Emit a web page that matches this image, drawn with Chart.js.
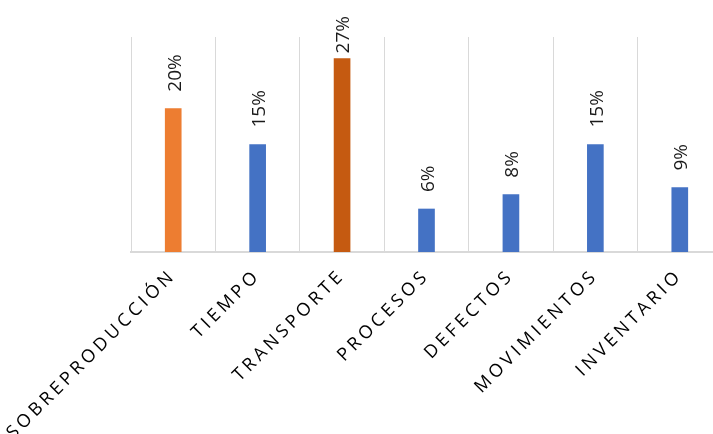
<!DOCTYPE html>
<html>
<head>
<meta charset="utf-8">
<script src="https://cdn.jsdelivr.net/npm/chart.js@4"></script>
<style>
  html, body { margin: 0; padding: 0; background: #fff; overflow: hidden; }
  #wrap { width: 713px; height: 434px; overflow: hidden; position: relative; }
  #chart { position: absolute; left: 0; top: 0; }
</style>
</head>
<body>
<div id="wrap"><canvas id="chart" width="722" height="434"></canvas></div>
<script>
const categories = ['SOBREPRODUCCIÓN', 'TIEMPO', 'TRANSPORTE', 'PROCESOS', 'DEFECTOS', 'MOVIMIENTOS', 'INVENTARIO'];
const values = [20, 15, 27, 6, 8, 15, 9];
const barColors = ['#ED7D31', '#4472C4', '#C55A11', '#4472C4', '#4472C4', '#4472C4', '#4472C4'];
const yMax = 30;

// spaced-out axis labels like the Excel original
const spacing = {
  id: 'spacing',
  beforeDraw(chart) {
    chart.ctx.letterSpacing = '3.8px';
  },
  afterDraw(chart) {
    chart.ctx.letterSpacing = '0px';
  }
};

// vertical percent labels above each bar, pushed down if they'd leave the top
const barLabels = {
  id: 'barLabels',
  afterDatasetsDraw(chart) {
    const ctx = chart.ctx;
    const meta = chart.getDatasetMeta(0);
    ctx.save();
    ctx.letterSpacing = '0px';
    ctx.font = '19px "Open Sans"';
    ctx.fillStyle = '#1a1a1a';
    ctx.textAlign = 'left';
    ctx.textBaseline = 'middle';
    meta.data.forEach((bar, i) => {
      const txt = values[i] + '%';
      const w = ctx.measureText(txt).width;
      const start = Math.max(bar.y - 17, 16 + w);
      ctx.save();
      ctx.translate(bar.x + 2, start);
      ctx.rotate(-Math.PI / 2);
      ctx.fillText(txt, 0, 0);
      ctx.restore();
    });
    ctx.restore();
  }
};

new Chart(document.getElementById('chart'), {
  type: 'bar',
  data: {
    labels: categories,
    datasets: [{
      data: values,
      backgroundColor: barColors,
      barThickness: 16
    }]
  },
  options: {
    responsive: false,
    animation: false,
    layout: { padding: { left: 131, top: 37, right: 0, bottom: 0 } },
    plugins: {
      legend: { display: false },
      tooltip: { enabled: false }
    },
    scales: {
      x: {
        grid: {
          // the closing right-hand line is cropped off in the original
          color: c => c.type === 'tick' ? '#d9d9d9' : 'rgba(0,0,0,0)',
          offset: true,
          drawTicks: false
        },
        border: { color: '#d9d9d9', width: 2 },
        ticks: {
          color: '#000',
          font: { family: '"Open Sans"', size: 18 },
          minRotation: 45,
          maxRotation: 45,
          autoSkip: false,
          padding: 13
        },
        afterFit(scale) {
          scale.height = 182;
          scale.paddingLeft = 0;
          scale.paddingRight = 0;
        }
      },
      y: {
        display: false,
        min: 0,
        max: yMax
      }
    }
  },
  plugins: [spacing, barLabels]
});
</script>
</body>
</html>
